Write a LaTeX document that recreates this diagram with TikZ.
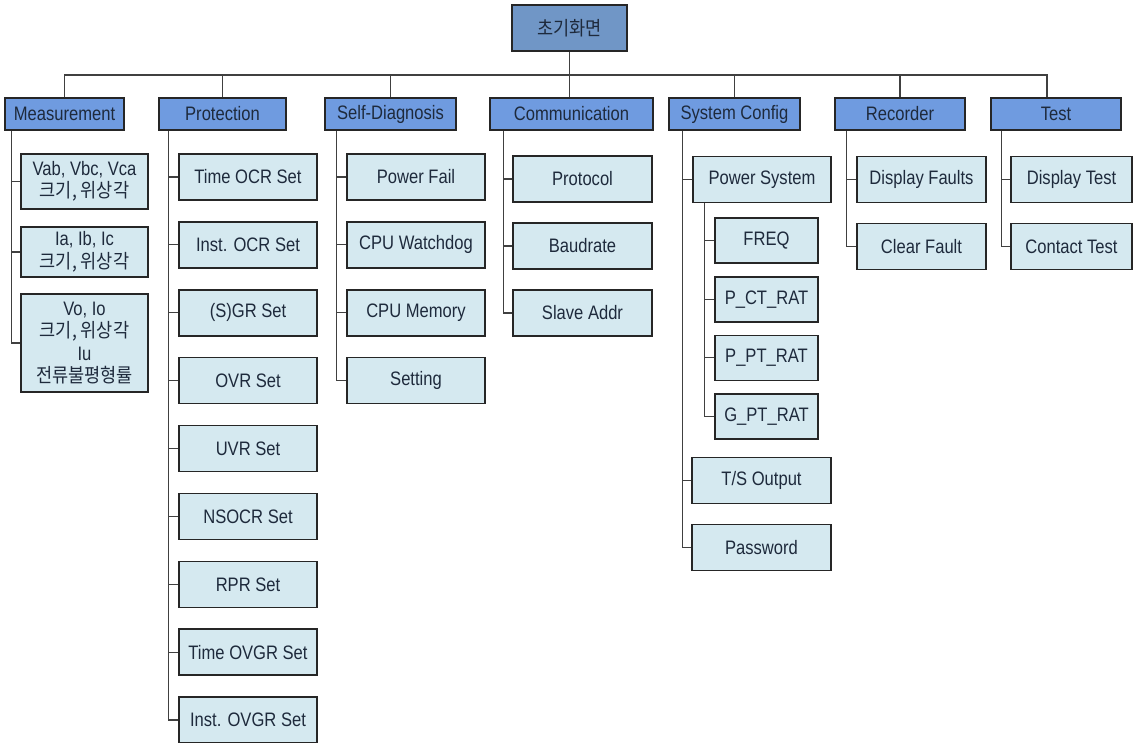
\documentclass[tikz,border=0pt]{standalone}
\usepackage{fontspec}
\setmainfont[FakeStretch=0.85]{Liberation Sans}
\newfontfamily\kr[FakeStretch=0.9]{Noto Sans CJK KR}
\definecolor{rootblue}{HTML}{7096C6}
\definecolor{menublue}{HTML}{6F9BE0}
\definecolor{leafblue}{HTML}{D5E9F0}
\definecolor{ink}{HTML}{1E2A3C}
\tikzset{
  box/.style={draw=black!85,line width=1.6pt,inner sep=0pt,align=center,
    font=\fontsize{19.5}{22.5}\selectfont,text=ink},
  rootbox/.style={box,fill=rootblue,minimum width=115pt,minimum height=46pt},
  menu/.style={box,fill=menublue,minimum width=#1,minimum height=32pt},
  leaf/.style={box,fill=leafblue,minimum width=#1,minimum height=46pt},
  wire/.style={line width=1.3pt,draw=black!75},
}
\begin{document}
\begin{tikzpicture}[x=1pt,y=-1pt]
  \useasboundingbox (0,0) rectangle (1133,742);
  \node[rootbox] (root) at (569.5,28) {\kr 초기화면};
  \node[menu=119pt] (meas) at (64.5,114) {Measurement};
  \node[menu=127pt] (prot) at (222.5,114) {Protection};
  \node[menu=131pt] (diag) at (390.5,114) {Self-Diagnosis};
  \node[menu=163pt] (comm) at (571.5,114) {Communication};
  \node[menu=131pt] (conf) at (734.5,114) {System Config};
  \node[menu=130pt] (rec) at (900,114) {Recorder};
  \node[menu=130pt] (test) at (1056,114) {Test};
  \coordinate (bus) at (569.5,75);
  \draw[wire] (root) -- (root |- comm.north);
  \draw[wire] (meas.north) |- ([xshift=-9pt]test.north |- bus) -- ([xshift=-9pt]test.north);
  \foreach \m in {prot,diag,conf,rec}
    \draw[wire] (\m.north) -- (\m.north |- bus);

  \node[leaf=127pt,minimum height=55pt] (meas1) at (84.5,181.5) {Vab, Vbc, Vca\\{\kr 크기, 위상각}};
  \node[leaf=127pt,minimum height=50pt] (meas2) at (84.5,252) {Ia, Ib, Ic\\{\kr 크기, 위상각}};
  \node[leaf=127pt,minimum height=98pt] (meas3) at (84.5,343) {Vo, Io\\{\kr 크기, 위상각}\\Iu\\{\kr 전류불평형률}};
  \draw[wire] ([xshift=7pt]meas.south west) |- (meas3.west);
  \foreach \i in {1,2}
    \draw[wire] ([xshift=7pt]meas.south west |- meas\i.west) -- (meas\i.west);

  \foreach \t [count=\i] in {Time OCR Set,Inst. OCR Set,(S)GR Set,OVR Set,UVR Set,NSOCR Set,RPR Set,Time OVGR Set,Inst. OVGR Set}
    \node[leaf=138pt] (prot\i) at (248,109+67.9*\i) {\t};
  \draw[wire] ([xshift=10pt]prot.south west) |- (prot9.west);
  \foreach \i in {1,...,8}
    \draw[wire] ([xshift=10pt]prot.south west |- prot\i.west) -- (prot\i.west);

  \foreach \t [count=\i] in {Power Fail,CPU Watchdog,CPU Memory,Setting}
    \node[leaf=138pt] (diag\i) at (416,109+67.9*\i) {\t};
  \draw[wire] ([xshift=12pt]diag.south west) |- (diag4.west);
  \foreach \i in {1,2,3}
    \draw[wire] ([xshift=12pt]diag.south west |- diag\i.west) -- (diag\i.west);

  \foreach \t [count=\i] in {Protocol,Baudrate,Slave Addr}
    \node[leaf=139pt] (comm\i) at (582.5,112+67*\i) {\t};
  \draw[wire] ([xshift=14pt]comm.south west) |- (comm3.west);
  \foreach \i in {1,2}
    \draw[wire] ([xshift=14pt]comm.south west |- comm\i.west) -- (comm\i.west);

  \node[leaf=138pt] (conf1) at (762,179.5) {Power System};
  \foreach \t [count=\i] in {FREQ,P\_CT\_RAT,P\_PT\_RAT,G\_PT\_RAT}
    \node[leaf=103pt,minimum height=45pt] (pw\i) at (766.5,182+58.6*\i) {\t};
  \node[leaf=139pt] (conf2) at (761.5,480.5) {T/S Output};
  \node[leaf=139pt] (conf3) at (761.5,547.5) {Password};
  \draw[wire] ([xshift=14pt]conf.south west) |- (conf3.west);
  \foreach \n in {conf1,conf2}
    \draw[wire] ([xshift=14pt]conf.south west |- \n.west) -- (\n.west);
  \draw[wire] ([xshift=12pt]conf1.south west) |- (pw4.west);
  \foreach \i in {1,2,3}
    \draw[wire] ([xshift=12pt]conf1.south west |- pw\i.west) -- (pw\i.west);

  \node[leaf=129pt] (rec1) at (921.5,179.5) {Display Faults};
  \node[leaf=129pt] (rec2) at (921.5,246.5) {Clear Fault};
  \draw[wire] ([xshift=12pt]rec.south west) |- (rec2.west);
  \draw[wire] ([xshift=12pt]rec.south west |- rec1.west) -- (rec1.west);

  \node[leaf=121pt] (test1) at (1071.5,179.5) {Display Test};
  \node[leaf=121pt] (test2) at (1071.5,246.5) {Contact Test};
  \draw[wire] ([xshift=11pt]test.south west) |- (test2.west);
  \draw[wire] ([xshift=11pt]test.south west |- test1.west) -- (test1.west);
\end{tikzpicture}
\end{document}
